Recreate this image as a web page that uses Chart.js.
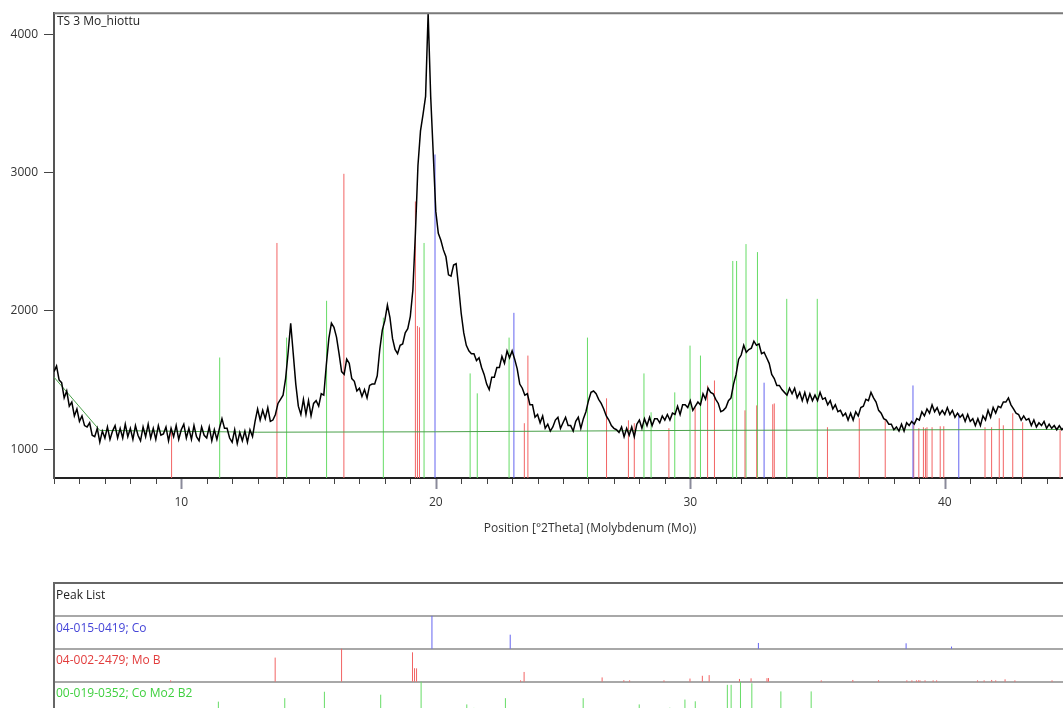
<!DOCTYPE html>
<html>
<head>
<meta charset="utf-8">
<title>TS 3 Mo_hiottu</title>
<script src="https://cdn.jsdelivr.net/npm/chart.js@4.4.0/dist/chart.umd.min.js"></script>
<style>
    html, body { margin: 0; padding: 0; background: #fff; overflow: hidden; width: 1063px; height: 708px; }
    #wrap { position: relative; width: 1130px; height: 708px; }
    #mainBox { position: absolute; left: 0; top: 0; width: 1130px; height: 545px; }
    #peakBox { position: absolute; left: 0; top: 570px; width: 1130px; height: 138px; }
    .lbl { position: absolute; font: 12px 'Open Sans', sans-serif; line-height: 16px; white-space: nowrap; }
</style>
</head>
<body>
<div id="wrap">
    <div id="mainBox"><canvas id="mainChart"></canvas></div>
    <div id="peakBox"><canvas id="peakChart"></canvas></div>
    <div class="lbl" style="left:57px; top:13px; color:#222;">TS 3 Mo_hiottu</div>
    <div class="lbl" style="left:56px; top:587px; color:#222;">Peak List</div>
    <div class="lbl" style="left:56px; top:620px; color:#4545d8;">04-015-0419; Co</div>
    <div class="lbl" style="left:56px; top:652px; color:#e23c3c;">04-002-2479; Mo B</div>
    <div class="lbl" style="left:56px; top:685px; color:#3fd03f;">00-019-0352; Co Mo2 B2</div>
</div>
<script>
// XRD scan, counts every 0.1 deg 2Theta starting at 5.0
const scanStart = 5.0;
const scanStep = 0.1;
const scanCounts = [
    1560, 1600, 1500, 1480, 1370, 1420, 1310, 1340, 1240, 1290,   // 5
    1200, 1240, 1170, 1160, 1190, 1100, 1090, 1150, 1050, 1130,   // 6
    1080, 1160, 1070, 1130, 1170, 1080, 1150, 1080, 1180, 1090,   // 7
    1150, 1070, 1170, 1100, 1060, 1160, 1090, 1180, 1080, 1150,   // 8
    1070, 1170, 1100, 1110, 1160, 1060, 1150, 1090, 1170, 1070,   // 9
    1140, 1180, 1080, 1150, 1070, 1170, 1090, 1060, 1160, 1100,   // 10
    1080, 1160, 1060, 1140, 1070, 1150, 1220, 1150, 1150, 1080,   // 11
    1050, 1140, 1040, 1120, 1060, 1130, 1050, 1140, 1090, 1200,   // 12
    1290, 1210, 1280, 1220, 1300, 1200, 1210, 1250, 1330, 1360,   // 13
    1390, 1510, 1700, 1910, 1690, 1470, 1310, 1250, 1360, 1250,   // 14
    1350, 1240, 1330, 1350, 1310, 1400, 1390, 1610, 1800, 1910,   // 15
    1880, 1810, 1690, 1560, 1540, 1650, 1620, 1510, 1490, 1420,   // 16
    1440, 1380, 1430, 1370, 1460, 1470, 1470, 1530, 1720, 1860,   // 17
    1930, 2040, 1950, 1800, 1720, 1690, 1750, 1760, 1840, 1870,   // 18
    1960, 2150, 2560, 3050, 3300, 3420, 3550, 4150, 3550, 3140,   // 19
    2720, 2560, 2510, 2440, 2390, 2260, 2250, 2330, 2340, 2170,   // 20
    1980, 1840, 1750, 1710, 1690, 1690, 1640, 1660, 1590, 1540,   // 21
    1470, 1430, 1520, 1520, 1590, 1590, 1670, 1620, 1710, 1660,   // 22
    1710, 1650, 1580, 1470, 1440, 1390, 1400, 1320, 1320, 1230,   // 23
    1250, 1190, 1240, 1150, 1180, 1130, 1160, 1210, 1230, 1150,   // 24
    1190, 1230, 1170, 1170, 1130, 1200, 1230, 1150, 1220, 1270,   // 25
    1350, 1410, 1420, 1400, 1360, 1330, 1290, 1240, 1210, 1170,   // 26
    1150, 1140, 1120, 1160, 1090, 1150, 1100, 1160, 1090, 1180,   // 27
    1210, 1150, 1220, 1170, 1230, 1170, 1220, 1220, 1190, 1240,   // 28
    1210, 1250, 1210, 1260, 1250, 1310, 1250, 1320, 1320, 1300,   // 29
    1350, 1280, 1310, 1340, 1320, 1400, 1360, 1440, 1410, 1400,   // 30
    1360, 1330, 1270, 1280, 1300, 1350, 1370, 1470, 1540, 1650,   // 31
    1680, 1750, 1700, 1720, 1730, 1780, 1750, 1760, 1690, 1700,   // 32
    1660, 1620, 1540, 1510, 1460, 1460, 1430, 1410, 1390, 1440,   // 33
    1400, 1440, 1370, 1410, 1350, 1410, 1340, 1400, 1350, 1390,   // 34
    1350, 1410, 1360, 1370, 1320, 1350, 1290, 1320, 1270, 1280,   // 35
    1240, 1260, 1210, 1260, 1210, 1270, 1240, 1300, 1310, 1360,   // 36
    1350, 1410, 1370, 1340, 1280, 1260, 1220, 1210, 1180, 1180,   // 37
    1140, 1160, 1130, 1180, 1130, 1190, 1170, 1200, 1180, 1220,   // 38
    1210, 1270, 1240, 1290, 1260, 1320, 1270, 1300, 1250, 1280,   // 39
    1250, 1300, 1250, 1280, 1230, 1260, 1230, 1250, 1200, 1250,   // 40
    1200, 1220, 1170, 1220, 1170, 1240, 1210, 1280, 1230, 1300,   // 41
    1260, 1310, 1300, 1340, 1340, 1370, 1320, 1290, 1260, 1250,   // 42
    1210, 1240, 1210, 1220, 1170, 1210, 1160, 1190, 1170, 1200,   // 43
    1150, 1180, 1150, 1170, 1140, 1170, 1140, 1160                // 44
];

// fitted background (green line)
const bgTheta = [5.0, 6.8, 13.0, 20.0, 30.0, 44.7];
const bgCounts = [1520, 1135, 1122, 1125, 1135, 1142];

// reference patterns: positions [deg 2Theta] and stick tops [counts]
const coPos = [19.97, 23.07, 32.9, 38.75, 40.55];
const coCounts = [3130, 1985, 1480, 1460, 1260];

const moBPos = [9.62, 13.76, 16.39, 19.2, 19.28, 19.36, 23.48, 23.62, 26.71, 27.57, 27.8, 29.16,
    30.19, 30.68, 30.95, 32.15, 32.61, 33.24, 33.3, 35.39, 36.64, 37.66, 38.78, 38.98, 39.16,
    39.24, 39.3, 39.5, 39.82, 39.96, 41.58, 41.84, 42.14, 42.3, 42.67, 43.06, 44.53];
const moBCounts = [1150, 2490, 2990, 2790, 1890, 1880, 1187, 1676, 1367, 1208, 1187, 1151,
    1302, 1460, 1496, 1280, 1316, 1324, 1330, 1158, 1223, 1208, 1172, 1151, 1158,
    1150, 1158, 1158, 1165, 1165, 1158, 1158, 1223, 1172, 1259, 1194, 1137];

const coMoBPos = [11.51, 14.14, 15.71, 17.94, 19.54, 21.35, 21.63, 22.88, 25.96, 28.18,
    28.46, 29.39, 29.99, 30.4, 31.67, 31.82, 32.19, 32.64, 33.79, 34.99];
const coMoBCounts = [1662, 1806, 2072, 1950, 2490, 1547, 1403, 1806, 1806, 1547,
    1266, 1410, 1748, 1676, 2360, 2360, 2482, 2424, 2086, 2086];

const yTicks = [1000, 2000, 3000, 4000];
const xMajorTicks = [10, 20, 30, 40];

const yMin = 791, yMax = 4151;
const xMin = 5, xMaxMain = 47.12, xMaxPeak = 47.46;
const stickBase = 1125;   // level used for relative intensities in the peak list

const font = "'Open Sans', sans-serif";
const colors = { co: '#6464f0', moB: '#f26464', coMoB: '#66dc66' };

const patternPoints = scanCounts.map((c, i) => ({ x: +(scanStart + i * scanStep).toFixed(2), y: c }));
const bgPoints = bgTheta.map((t, i) => ({ x: t, y: bgCounts[i] }));

function stickDataset(pos, color, ends) {
    const pts = [];
    pos.forEach((p, i) => {
        const e = ends(i);
        pts.push({ x: p, y: e[0] }, { x: p, y: e[1] }, { x: p, y: null });
    });
    return {
        data: pts,
        borderColor: color,
        borderWidth: 1,
        pointRadius: 0,
        spanGaps: false,
        tension: 0
    };
}

// x axis minor/major tick marks and the top frame line
const framePlugin = {
    id: 'frame',
    afterDraw(chart) {
        const { ctx, chartArea, scales } = chart;
        ctx.save();
        ctx.strokeStyle = '#7a7a7a';
        ctx.lineWidth = 2;
        ctx.beginPath();
        ctx.moveTo(chartArea.left, chartArea.top);
        ctx.lineTo(chartArea.right, chartArea.top);
        ctx.lineTo(chartArea.right, chartArea.bottom);
        ctx.stroke();

        const x = scales.x;
        for (let v = Math.ceil(x.min); v <= x.max; v++) {
            const px = Math.round(x.getPixelForValue(v)) + 0.5;
            const major = xMajorTicks.includes(v);
            ctx.strokeStyle = major ? '#8a8a9a' : '#444';
            ctx.lineWidth = major ? 2 : 1;
            ctx.beginPath();
            ctx.moveTo(px, chartArea.bottom + 1);
            ctx.lineTo(px, chartArea.bottom + (major ? 11 : 6));
            ctx.stroke();
        }
        ctx.restore();
    }
};

new Chart(document.getElementById('mainChart'), {
    type: 'line',
    data: {
        datasets: [
            { data: patternPoints, borderColor: '#000', borderWidth: 1.5, pointRadius: 0, tension: 0 },
            { data: bgPoints, borderColor: '#4aa04a', borderWidth: 1, pointRadius: 0, tension: 0 },
            stickDataset(coPos, colors.co, i => [yMin, coCounts[i]]),
            stickDataset(moBPos, colors.moB, i => [yMin, moBCounts[i]]),
            stickDataset(coMoBPos, colors.coMoB, i => [yMin, coMoBCounts[i]])
        ]
    },
    options: {
        responsive: true,
        maintainAspectRatio: false,
        animation: false,
        layout: { padding: { top: 11, right: 4, left: 0, bottom: 0 } },
        plugins: { legend: { display: false }, tooltip: { enabled: false } },
        scales: {
            x: {
                type: 'linear',
                min: xMin,
                max: xMaxMain,
                afterBuildTicks: s => { s.ticks = xMajorTicks.map(v => ({ value: v })); },
                afterFit: s => { s.height = 67; },
                grid: { display: false },
                border: { display: true, color: '#222', width: 2 },
                ticks: {
                    padding: 9,
                    color: '#333',
                    maxRotation: 0,
                    autoSkip: false,
                    font: { family: font, size: 12 },
                    callback: v => String(v)
                },
                title: {
                    display: true,
                    text: 'Position [°2Theta] (Molybdenum (Mo))',
                    color: '#333',
                    font: { family: font, size: 12 },
                    padding: { top: 0, bottom: 9 }
                }
            },
            y: {
                min: yMin,
                max: yMax,
                afterBuildTicks: s => { s.ticks = yTicks.map(v => ({ value: v })); },
                afterFit: s => { s.width = 54; },
                grid: { drawOnChartArea: false, drawTicks: true, tickLength: 10, tickColor: '#444', tickWidth: 1 },
                border: { color: '#555', width: 2 },
                ticks: {
                    padding: 6,
                    color: '#333',
                    font: { family: font, size: 12 },
                    callback: v => String(v)
                }
            }
        }
    },
    plugins: [framePlugin]
});

// Peak list: one row per reference pattern, sticks scaled to each pattern's strongest line
function relHeights(tops) {
    const max = Math.max(...tops);
    return tops.map(v => Math.max((v - stickBase) / (max - stickBase), 0.04));
}
const coRel = relHeights(coCounts);
const moBRel = relHeights(moBCounts);
const coMoBRel = relHeights(coMoBCounts);

new Chart(document.getElementById('peakChart'), {
    type: 'line',
    data: {
        datasets: [
            stickDataset(coPos, colors.co, i => [2, 2 + coRel[i]]),
            stickDataset(moBPos, colors.moB, i => [1, 1 + moBRel[i]]),
            stickDataset(coMoBPos, colors.coMoB, i => [0, coMoBRel[i]])
        ]
    },
    options: {
        responsive: true,
        maintainAspectRatio: false,
        animation: false,
        layout: { padding: { top: 13, right: 4, left: 0, bottom: 0 } },
        plugins: { legend: { display: false }, tooltip: { enabled: false } },
        scales: {
            x: { type: 'linear', min: xMin, max: xMaxPeak, display: false },
            y: {
                min: 0.2,
                max: 4,
                afterBuildTicks: s => { s.ticks = [1, 2, 3, 4].map(v => ({ value: v })); },
                afterFit: s => { s.width = 54; },
                grid: {
                    drawTicks: false,
                    color: c => (c.tick && c.tick.value === 4 ? '#666' : '#a8a8a8'),
                    lineWidth: 2
                },
                border: { color: '#666', width: 2 },
                ticks: { display: false }
            }
        }
    }
});
</script>
</body>
</html>
